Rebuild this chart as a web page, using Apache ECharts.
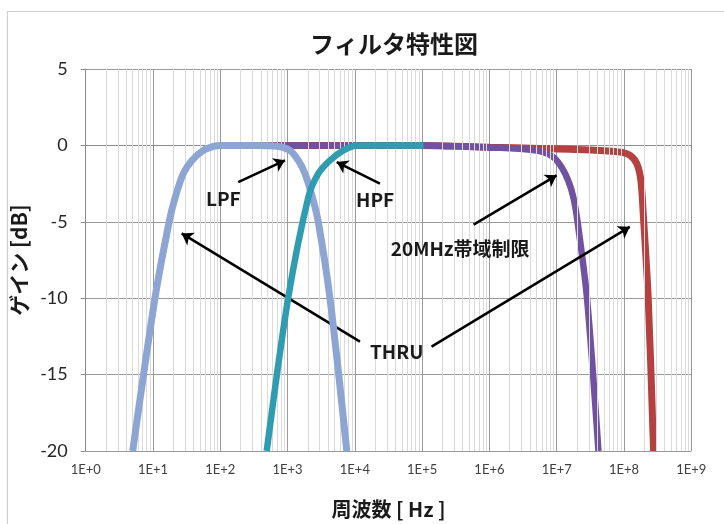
<!DOCTYPE html>
<html><head><meta charset="utf-8">
<script src="https://cdn.jsdelivr.net/npm/echarts@6/dist/echarts.min.js"></script>
<style>html,body{margin:0;padding:0;background:#fff}#c{width:724px;height:524px}</style>
</head><body><div id="c"></div>
<script>
// Light blue curve (band: THRU / LPF edges)
const freqBlue = [5.0, 10.7, 17.4, 21.4, 28.2, 37.6, 56, 79, 100, 316, 690, 1080, 1450, 1820, 2340, 2860, 4270, 7590];
const gainBlue = [-20, -10, -5, -3.4, -1.85, -1.0, -0.33, -0.07, 0, 0, -0.05, -0.33, -1.0, -1.85, -3.4, -5, -10, -20];
// Teal curve (HPF)
const freqTeal = [490, 1020, 2040, 2860, 4270, 6760, 10700, 31600, 105000];
const gainTeal = [-20, -10, -3.37, -1.85, -0.98, -0.33, 0, 0, 0];
// Purple curve (20MHz band limit)
const freqPurple = [200, 1e4, 1.1e5, 1.2e6, 2.8e6, 5.6e6, 8.9e6, 1.17e7, 1.48e7, 1.76e7, 2.04e7, 2.82e7, 4.17e7];
const gainPurple = [0, 0, 0, -0.15, -0.22, -0.37, -0.76, -1.4, -2.3, -3.37, -5, -10, -20];
// Red curve (THRU)
const freqRed = [200, 1e5, 1e6, 5.6e6, 3.16e7, 8.7e7, 1.23e8, 1.55e8, 1.78e8, 1.93e8, 2.29e8, 2.75e8];
const gainRed = [0, 0, -0.12, -0.2, -0.3, -0.44, -0.65, -1.2, -2.3, -4.46, -10, -20];

const yTicks = [5, 0, -5, -10, -15, -20];

// annotation labels [freq, gain, text]
const labels = [
  [111, -3.48, 'LPF'],
  [2.0e4, -3.59, 'HPF'],
  [3.68e5, -6.74, '20MHz帯域制限'],
  [4.18e4, -13.49, 'THRU']
];
// arrows [[fromFreq, fromGain], [toFreq, toGain]]
const arrows = [
  [[185, -2.40], [915, -0.98]],
  [[2.36e4, -2.50], [5370, -1.09]],
  [[5.82e5, -5.18], [9.96e6, -1.96]],
  [[1.19e4, -12.84], [26.7, -5.76]],
  [[1.38e5, -13.17], [1.22e8, -5.33]]
];

const zip = (f, g) => f.map((v, i) => [v, g[i]]);
const minorLines = [];
for (let d = 0; d < 9; d++) for (let k = 2; k <= 9; k++) minorLines.push({xAxis: k * Math.pow(10, d)});

const jp = "'Noto Sans CJK JP', sans-serif";
const lineBase = {type: 'line', showSymbol: false, symbol: 'none', smooth: 0.3, clip: true, animation: false};

const chart = echarts.init(document.getElementById('c'));
chart.setOption({
  animation: false,
  title: {text: 'フィルタ特性図', left: 389, top: 27, textAlign: 'center',
    textStyle: {fontFamily: jp, fontSize: 24, fontWeight: 'bold', color: '#1a1a1a'}},
  graphic: [{type: 'rect', left: 5, top: 9, shape: {width: 760, height: 560}, style: {fill: 'none', stroke: '#cfcfcf', lineWidth: 1.2}, silent: true, z: -10}],
  grid: {left: 85.7, right: 32.7, top: 69, bottom: 72},
  xAxis: {
    type: 'log', logBase: 10, min: 1, max: 1e9, interval: 1,
    name: '周波数 [ Hz ]', nameLocation: 'middle', nameGap: 48,
    nameTextStyle: {fontFamily: jp, fontSize: 20, fontWeight: 'bold', color: '#1a1a1a'},
    axisLine: {show: true, lineStyle: {color: '#8c8c8c', width: 1}},
    axisTick: {show: true, length: 5, lineStyle: {color: '#8c8c8c'}},
    axisLabel: {formatter: v => '1E+' + Math.round(Math.log10(v)), fontFamily: 'Lato, sans-serif', fontSize: 13, color: '#404040', margin: 12},
    splitLine: {show: true, lineStyle: {color: '#9a9a9a', width: 1}},
    minorTick: {show: false}, minorSplitLine: {show: false}
  },
  yAxis: {
    type: 'value', min: -20, max: 5, interval: 5,
    name: 'ゲイン [dB]', nameLocation: 'middle', nameGap: 49, nameRotate: 90,
    nameTextStyle: {fontFamily: jp, fontSize: 21, fontWeight: 'bold', color: '#1a1a1a'},
    axisLine: {show: true, lineStyle: {color: '#8c8c8c', width: 1}},
    axisTick: {show: true, length: 5, lineStyle: {color: '#8c8c8c'}},
    axisLabel: {fontFamily: 'Lato, sans-serif', fontSize: 18, color: '#262626', margin: 18,
      formatter: v => yTicks.includes(v) ? String(v) : ''},
    splitLine: {show: true, lineStyle: {color: '#9a9a9a', width: 1}}
  },
  series: [
    {type: 'line', data: [], z: 1, silent: true,
      markLine: {silent: true, symbol: 'none', animation: false, label: {show: false},
        lineStyle: {color: '#dadada', width: 1, type: 'solid'}, data: minorLines}},
    Object.assign({}, lineBase, {name: 'THRU', data: zip(freqRed, gainRed), z: 3, lineStyle: {color: '#B4403F', width: 7}}),
    Object.assign({}, lineBase, {name: '20MHz帯域制限', data: zip(freqPurple, gainPurple), z: 4, lineStyle: {color: '#7152A0', width: 6.5}}),
    Object.assign({}, lineBase, {name: 'LPF', data: zip(freqBlue, gainBlue), z: 5, lineStyle: {color: '#8DA5D2', width: 7}}),
    Object.assign({}, lineBase, {name: 'HPF', data: zip(freqTeal, gainTeal), z: 6, lineStyle: {color: '#2F9DAF', width: 6.5}}),
    {type: 'line', data: [], z: 10,
      markLine: {silent: true, animation: false, symbol: ['none', 'arrow'], symbolSize: 11,
        label: {show: false}, lineStyle: {color: '#000', width: 2.5, type: 'solid'},
        data: arrows.map(a => [{coord: a[0]}, {coord: a[1]}])},
      markPoint: {silent: true, animation: false, symbol: 'circle', symbolSize: 0,
        label: {show: true, position: 'inside', formatter: p => p.name, fontFamily: jp, fontSize: 19, fontWeight: 'bold', color: '#1a1a1a'},
        data: labels.map(l => ({coord: [l[0], l[1]], name: l[2]}))}}
  ]
});
</script></body></html>
